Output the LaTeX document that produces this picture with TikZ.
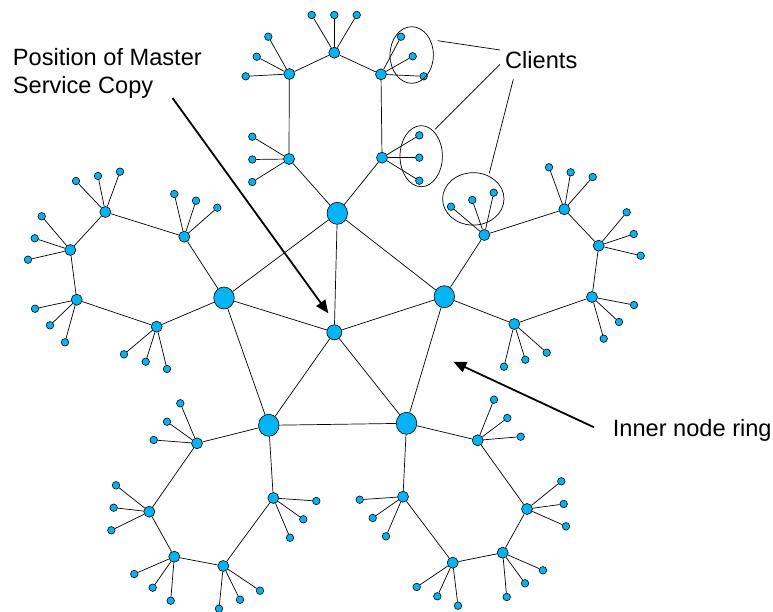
\documentclass[tikz,border=0pt]{standalone}
\usepackage{fontspec}
\setmainfont{Liberation Sans}
\usetikzlibrary{shapes.geometric,arrows.meta}
\definecolor{nodeblue}{RGB}{0,180,245}

\begin{document}
\begin{tikzpicture}[x=1pt, y=-1pt,
    every node/.style={inner sep=0pt},
    dot/.style={circle, draw, fill=nodeblue, line width=0.6pt},
    leaf/.style={dot, minimum size=7.5pt},
    hub/.style={dot, minimum size=11pt},
    core/.style={dot, minimum size=15pt},
    outer/.style={dot, ellipse, minimum width=20.5pt, minimum height=22pt},
    clientset/.style={ellipse, draw, line width=0.7pt},
    txt/.style={font=\fontsize{23.6}{27.7}\selectfont, align=left, anchor=base west},
    link/.style={line width=0.7pt},
    pointer/.style={line width=1.8pt, -{Triangle[length=13pt,width=11pt]}}
  ]
  \useasboundingbox (0,0) rectangle (773,612);

  \node[core] (c) at (334.3,332.3) {};
  \node[outer] (rn) at (337.3,213.3) {};
  \node[outer] (re) at (444.3,296.7) {};
  \node[outer] (rse) at (406.5,423.3) {};
  \node[outer] (rsw) at (268.8,425.3) {};
  \node[outer] (rw) at (224,298) {};

  \node[hub] (n1) at (289,159) {};
  \node[hub] (n2) at (289.3,74) {};
  \node[hub] (n3) at (334.3,52.7) {};
  \node[hub] (n4) at (381,74.3) {};
  \node[hub] (n5) at (382,157.7) {};

  \node[hub] (e1) at (484.3,235) {};
  \node[hub] (e2) at (564.3,209.3) {};
  \node[hub] (e3) at (598.7,245.7) {};
  \node[hub] (e4) at (592,297) {};
  \node[hub] (e5) at (514.3,324) {};

  \node[hub] (se1) at (477.7,440.3) {};
  \node[hub] (se2) at (527,509) {};
  \node[hub] (se3) at (502.7,552.7) {};
  \node[hub] (se4) at (452.7,562.7) {};
  \node[hub] (se5) at (403,496.7) {};

  \node[hub] (sw1) at (197,443.3) {};
  \node[hub] (sw2) at (149.3,511.7) {};
  \node[hub] (sw3) at (174.3,556.7) {};
  \node[hub] (sw4) at (223.3,566) {};
  \node[hub] (sw5) at (273.3,498) {};

  \node[hub] (w1) at (184.3,236.7) {};
  \node[hub] (w2) at (105.3,212) {};
  \node[hub] (w3) at (70.3,250) {};
  \node[hub] (w4) at (76.7,299.7) {};
  \node[hub] (w5) at (156.7,326.7) {};

  \foreach \a/\b in {c/rn, c/re, c/rse, c/rsw, c/rw, rn/re, re/rse, rse/rsw, rsw/rw, rw/rn}
    \draw[link] (\a) -- (\b);

  \foreach \k in {n, e, se, sw, w} {
    \draw[link] (r\k) -- (\k1);
    \draw[link] (\k1) -- (\k2);
    \draw[link] (\k2) -- (\k3);
    \draw[link] (\k3) -- (\k4);
    \draw[link] (\k4) -- (\k5);
    \draw[link] (\k5) -- (r\k);
  }

  \foreach \h/\x/\y [count=\i] in {
      n1/252.3/136.7, n1/252.3/159.5, n1/252.3/182,
      n2/268.3/36.7, n2/256.7/56.7, n2/245.7/76.3,
      n3/311.7/15, n3/334.3/15, n3/356.7/15,
      n4/401/36.7, n4/412.7/56.3, n4/423.7/76.3,
      n5/419.3/135.3, n5/419.3/157.7, n5/419.3/180.7,
      e1/451/206.7, e1/472.3/200, e1/493.7/192.7,
      e2/549/167.3, e2/570.7/172.3, e2/592.7/177,
      e3/626.7/212.3, e3/633.7/234, e3/640.7/255.7,
      e4/634/305, e4/619/322, e4/603.7/338.7,
      e5/504/366.7, e5/525.3/359.7, e5/546.7/352.7,
      se1/494/399.7, se1/507.3/418, se1/520.7/436.7,
      se2/561.3/481.3, se2/563.7/504, se2/566/526.3,
      se3/543/570.3, se3/525/583.3, se3/506.7/597,
      se4/416.7/587, se4/437.3/596.3, se4/458/605.7,
      se5/359.7/499.7, se5/372.7/518, se5/386/536.3,
      sw1/180.3/403.3, sw1/167/421.7, sw1/153.7/440,
      sw2/116/485.3, sw2/113.7/507.7, sw2/111.3/530.3,
      sw3/134.3/574, sw3/152.7/587.7, sw3/170.7/600.7,
      sw4/219/608.7, sw4/240/599.7, sw4/260/590.7,
      sw5/316.3/501, sw5/303.3/519.3, sw5/290/537.7,
      w1/174.3/194, w1/196/200.7, w1/217.3/207.7,
      w2/76/181, w2/98/176, w2/120/171.7,
      w3/41.7/216.3, w3/34.7/238.3, w3/28/259.7,
      w4/35/308.7, w4/50/325.3, w4/65/342.3,
      w5/124/354.3, w5/145.7/361.7, w5/167/369} {
    \node[leaf] (lf\i) at (\x,\y) {};
    \draw[link] (\h) -- (lf\i);
  }

  \node[clientset, minimum width=43.4pt, minimum height=56.6pt] (cl1) at (411.7,55) {};
  \node[clientset, minimum width=42.4pt, minimum height=61pt] (cl2) at (421.2,156.2) {};
  \node[clientset, minimum width=61.4pt, minimum height=52.4pt] (cl3) at (473.3,198.9) {};

  \node[txt] (master) at (12.7,93.4) {Position of Master\\Service Copy};
  \node[txt] (clients) at (505,68.3) {Clients};
  \node[txt] (inner) at (612.7,436.7) {Inner node ring};

  \coordinate (k1) at (437.7,40.7);
  \coordinate (k1e) at (500,50);
  \coordinate (k2) at (435,129.3);
  \coordinate (k2e) at (500,64.3);
  \coordinate (k3) at (489.3,173.3);
  \coordinate (k3e) at (513.3,79.3);
  \draw[link] (k1) -- (k1e);
  \draw[link] (k2) -- (k2e);
  \draw[link] (k3) -- (k3e);

  \coordinate (m0) at (172.5,98);
  \coordinate (m1) at (328.3,313.3);
  \coordinate (i0) at (594,427.3);
  \coordinate (i1) at (453.3,361.7);
  \draw[pointer] (m0) -- (m1);
  \draw[pointer] (i0) -- (i1);
\end{tikzpicture}
\end{document}
